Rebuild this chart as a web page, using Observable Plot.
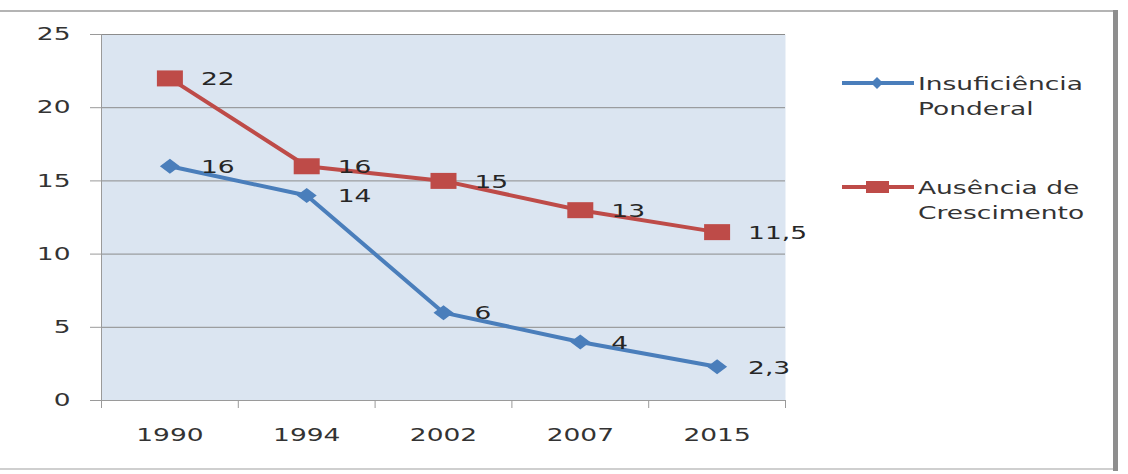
<!DOCTYPE html>
<html>
<head>
<meta charset="utf-8">
<script src="https://cdn.jsdelivr.net/npm/d3@7"></script>
<script src="https://cdn.jsdelivr.net/npm/@observablehq/plot@0.6"></script>
<style>
  html, body { margin: 0; padding: 0; background: #fff; }
  #wrap { position: relative; width: 1128px; height: 474px; overflow: hidden; font-family: "DejaVu Sans", sans-serif; }
  #chart { position: absolute; left: 0; top: 0; }
  .border { position: absolute; }
  .legend { position: absolute; left: 842px; font-size: 18px; color: #333; }
  .legend .item { position: absolute; left: 0; width: 300px; }
  .legend svg { position: absolute; left: 0; }
  .legend .txt { position: absolute; left: 76px; line-height: 25px; white-space: nowrap; transform: scaleX(1.47); transform-origin: left center; }
</style>
</head>
<body>
<div id="wrap">
  <div id="chart"></div>
  <div class="border" style="left:0;top:10px;width:1114px;height:2px;background:#b4b4b4"></div>
  <div class="border" style="left:0;top:468px;width:1114px;height:2px;background:#cfcfcf"></div>
  <div class="border" style="left:1113px;top:10px;width:5px;height:461px;background:#8e8e8e"></div>
  <div class="legend" id="legend"></div>
</div>
<script>
const years = ["1990", "1994", "2002", "2007", "2015"];
const insuficiencia = [16, 14, 6, 4, 2.3];
const ausencia = [22, 16, 15, 13, 11.5];
const seriesNames = ["Insuficiência Ponderal", "Ausência de Crescimento"];
const yTicks = [0, 5, 10, 15, 20, 25];

const blue = "#4a7ebb";
const red = "#be4b48";
const STRETCH = 1.47;

const data = [];
years.forEach((yr, i) => {
  data.push({s: seriesNames[0], i: i + 0.5, v: insuficiencia[i]});
  data.push({s: seriesNames[1], i: i + 0.5, v: ausencia[i]});
});
const fmt = v => String(v).replace(".", ",");

const wideSquare = {draw(ctx) { ctx.rect(-13, -8, 26, 16); }};
const wideDiamond = {draw(ctx) { ctx.moveTo(0, -7.5); ctx.lineTo(10, 0); ctx.lineTo(0, 7.5); ctx.lineTo(-10, 0); ctx.closePath(); }};

const blueData = data.filter(d => d.s === seriesNames[0]);
const redData = data.filter(d => d.s === seriesNames[1]);

const chart = Plot.plot({
  width: 1128,
  height: 474,
  marginLeft: 101,
  marginRight: 343,
  marginTop: 34,
  marginBottom: 74,
  style: {fontFamily: "DejaVu Sans, sans-serif", fontSize: "18px", color: "#333", background: "transparent", overflow: "visible"},
  x: {domain: [0, 5], axis: null},
  y: {domain: [0, 25], axis: null},
  marks: [
    Plot.frame({fill: "#dbe5f1", stroke: null}),
    Plot.gridY(yTicks.filter(t => t > 0), {stroke: "#8c8c8c", strokeOpacity: 1, strokeWidth: 1}),
    Plot.ruleX([0], {stroke: "#9a9a9a", strokeWidth: 1}),
    Plot.ruleY([0], {stroke: "#9a9a9a", strokeWidth: 1}),
    Plot.axisY({ticks: yTicks, tickSize: 11, tickPadding: 20, stroke: "#9a9a9a", fill: "#333", fontSize: 18, label: null}),
    Plot.axisX({ticks: [0, 1, 2, 3, 4, 5], tickSize: 8, tickFormat: () => "", stroke: "#9a9a9a", label: null}),
    Plot.axisX({ticks: years.map((y, i) => i + 0.5), tickSize: 0, tickPadding: 28, tickFormat: t => years[Math.round(t - 0.5)], fill: "#333", fontSize: 18, label: null}),
    Plot.line(redData, {x: "i", y: "v", stroke: red, strokeWidth: 4}),
    Plot.line(blueData, {x: "i", y: "v", stroke: blue, strokeWidth: 4}),
    Plot.dot(redData, {x: "i", y: "v", symbol: wideSquare, fill: red, stroke: null, r: 8}),
    Plot.dot(blueData, {x: "i", y: "v", symbol: wideDiamond, fill: blue, stroke: null, r: 8}),
    Plot.text(data, {x: "i", y: "v", text: d => fmt(d.v), textAnchor: "start", lineAnchor: "middle", dx: 31, dy: 1, fill: "#262626", fontSize: 18})
  ]
});
document.getElementById("chart").appendChild(chart);

// stretch texts horizontally to match the reference's wide lettering
chart.querySelectorAll("text").forEach(t => {
  const len = t.getComputedTextLength();
  if (len > 0) {
    t.setAttribute("textLength", (len * STRETCH).toFixed(1));
    t.setAttribute("lengthAdjust", "spacingAndGlyphs");
  }
});

// legend
const legend = document.getElementById("legend");
const legendItems = [
  {name: ["Insuficiência", "Ponderal"], color: blue, top: 71, marker: "diamond"},
  {name: ["Ausência de", "Crescimento"], color: red, top: 175, marker: "square"}
];
legendItems.forEach(it => {
  const div = document.createElement("div");
  div.className = "item";
  div.style.top = it.top + "px";
  const mk = it.marker === "diamond"
    ? `<path d="M35,6 L41,12 L35,18 L29,12 Z" fill="${it.color}"/>`
    : `<rect x="24" y="6" width="23" height="12" fill="${it.color}"/>`;
  div.innerHTML = `<svg width="72" height="24" style="top:0"><line x1="0" x2="72" y1="12" y2="12" stroke="${it.color}" stroke-width="4"/>${mk}</svg>` +
    `<div class="txt" style="top:0">${it.name[0]}<br>${it.name[1]}</div>`;
  legend.appendChild(div);
});
</script>
</body>
</html>
